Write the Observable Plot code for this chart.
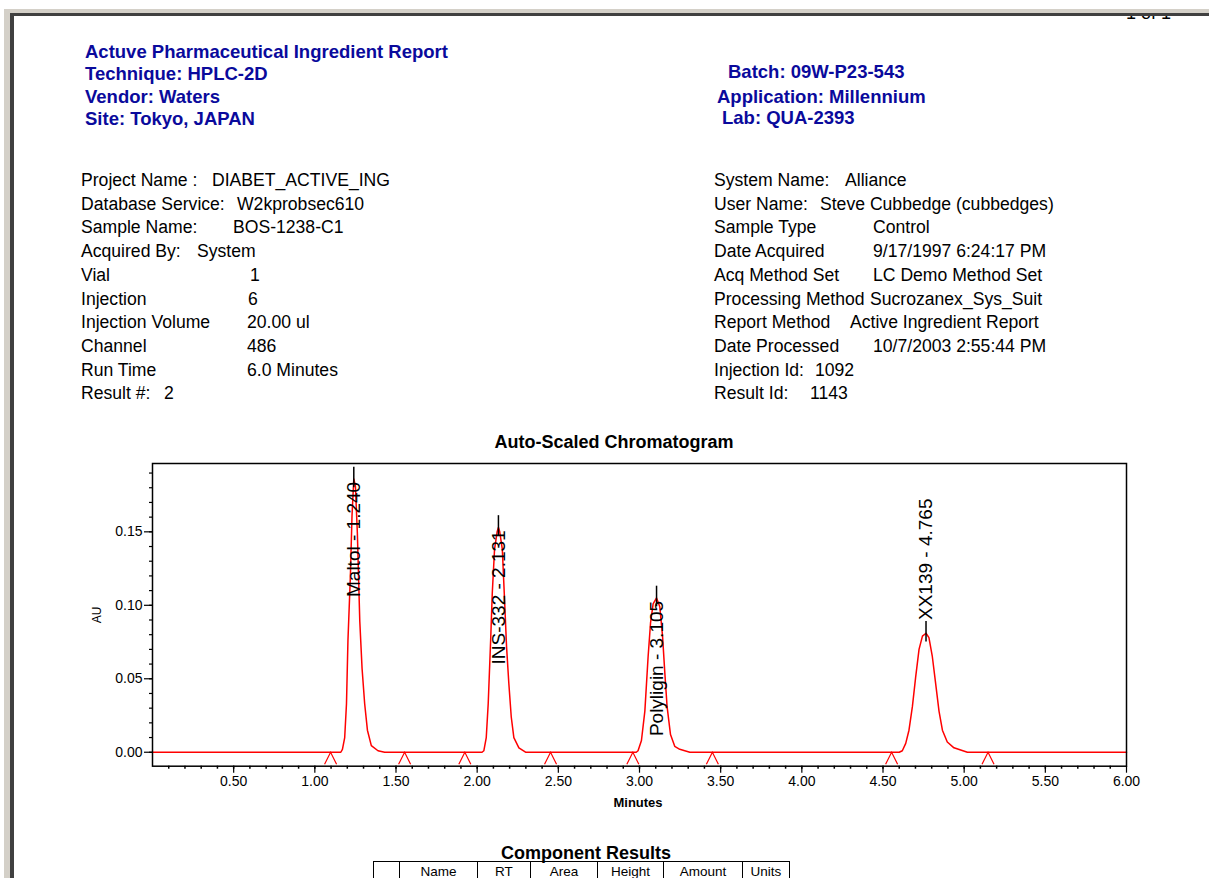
<!DOCTYPE html>
<html>
<head>
<meta charset="utf-8">
<script src="https://cdn.jsdelivr.net/npm/d3@7"></script>
<script src="https://cdn.jsdelivr.net/npm/@observablehq/plot@0.6"></script>
<style>
  html, body { margin: 0; padding: 0; background: #fff; }
  body { width: 1209px; height: 878px; overflow: hidden; position: relative;
         font-family: "Liberation Sans", Arial, sans-serif; color: #000; }
  .abs { position: absolute; white-space: pre; }
  .hdr { font-weight: bold; font-size: 18.5px; color: #0a0a9c; line-height: 22px; }
  .meta { font-size: 17.6px; line-height: 20px; }
  #chart { position: absolute; left: 0; top: 420px; }
  table.comp { position: absolute; left: 373px; top: 861px; border-collapse: collapse;
               font-size: 13.5px; }
  table.comp td { border: 1.5px solid #000; height: 22px; padding: 0; text-align: center;
                  vertical-align: top; line-height: 19px; }
</style>
</head>
<body>
<div id="page"></div>
<div id="chart"></div>
<script>
// ---------------- data ----------------
const headerLeft = ["Actuve Pharmaceutical Ingredient Report", "Technique: HPLC-2D", "Vendor: Waters", "Site: Tokyo, JAPAN"];
const headerRight = ["Batch: 09W-P23-543", "Application: Millennium", "Lab: QUA-2393"];

const metaLeftLabels = ["Project Name :", "Database Service:", "Sample Name:", "Acquired By:", "Vial", "Injection", "Injection Volume", "Channel", "Run Time", "Result #:"];
const metaLeftValues = ["DIABET_ACTIVE_ING", "W2kprobsec610", "BOS-1238-C1", "System", "1", "6", "20.00 ul", "486", "6.0 Minutes", "2"];
const metaRightLabels = ["System Name:", "User Name:", "Sample Type", "Date Acquired", "Acq Method Set", "Processing Method", "Report Method", "Date Processed", "Injection Id:", "Result Id:"];
const metaRightValues = ["Alliance", "Steve Cubbedge (cubbedges)", "Control", "9/17/1997 6:24:17 PM", "LC Demo Method Set", "Sucrozanex_Sys_Suit", "Active Ingredient Report", "10/7/2003 2:55:44 PM", "1092", "1143"];

const chartTitle = "Auto-Scaled Chromatogram";
const xAxisLabel = "Minutes";
const yAxisLabel = "AU";
const tableTitle = "Component Results";
const tableHeaders = ["", "Name", "RT", "Area", "Height", "Amount", "Units"];
const pageNumber = "1 of 1";

const peakNames = ["Maltol", "INS-332", "Polyligin", "XX139"];
const peakRT = [1.240, 2.131, 3.105, 4.765];
const peakHeight = [0.186, 0.153, 0.105, 0.081];

// chromatogram trace (minutes, AU)
const baseStartTime = [0.0], baseStartAU = [0.0];
const maltolTime = [1.160, 1.170, 1.184, 1.195, 1.204, 1.219, 1.229, 1.240, 1.250, 1.262, 1.277, 1.291, 1.307, 1.324, 1.348, 1.389, 1.430];
const maltolAU   = [0.000, 0.002, 0.010, 0.033, 0.076, 0.120, 0.161, 0.186, 0.181, 0.149, 0.089, 0.057, 0.033, 0.015, 0.0045, 0.001, 0.000];
const insTime = [2.030, 2.041, 2.056, 2.068, 2.083, 2.093, 2.107, 2.123, 2.131, 2.139, 2.155, 2.169, 2.181, 2.195, 2.210, 2.226, 2.257, 2.298];
const insAU   = [0.000, 0.001, 0.010, 0.033, 0.076, 0.108, 0.138, 0.150, 0.153, 0.150, 0.138, 0.103, 0.072, 0.047, 0.024, 0.010, 0.003, 0.000];
const polyTime = [2.980, 2.991, 3.012, 3.033, 3.053, 3.068, 3.084, 3.105, 3.125, 3.142, 3.156, 3.170, 3.191, 3.217, 3.248, 3.310];
const polyAU   = [0.000, 0.001, 0.008, 0.028, 0.065, 0.088, 0.101, 0.105, 0.099, 0.079, 0.054, 0.031, 0.012, 0.004, 0.002, 0.000];
const xxTime = [4.600, 4.619, 4.640, 4.660, 4.681, 4.701, 4.722, 4.743, 4.765, 4.783, 4.804, 4.824, 4.845, 4.866, 4.896, 4.937, 5.020];
const xxAU   = [0.000, 0.001, 0.006, 0.015, 0.031, 0.051, 0.070, 0.079, 0.081, 0.078, 0.065, 0.047, 0.028, 0.015, 0.007, 0.003, 0.000];
const baseEndTime = [6.0], baseEndAU = [0.0];

// integration start/stop markers (minutes)
const integrationMarks = [1.097, 1.553, 1.924, 2.452, 2.959, 3.449, 4.553, 5.147];

const xMajorTicks = [0.5, 1.0, 1.5, 2.0, 2.5, 3.0, 3.5, 4.0, 4.5, 5.0, 5.5, 6.0];
const xTickLabels = ["0.50", "1.00", "1.50", "2.00", "2.50", "3.00", "3.50", "4.00", "4.50", "5.00", "5.50", "6.00"];
const yMajorTicks = [0.00, 0.05, 0.10, 0.15];
const yTickLabels = ["0.00", "0.05", "0.10", "0.15"];

// ---------------- layout (not data) ----------------
const page = document.getElementById("page");
function addDiv(text, cls, style) {
  const d = document.createElement("div");
  d.className = "abs " + (cls || "");
  d.textContent = text;
  Object.assign(d.style, style);
  page.appendChild(d);
  return d;
}
// window border
addDiv("", "", {left: "4px", top: "9px", width: "1205px", height: "4px", background: "#d4d0c8"});
addDiv("", "", {left: "4px", top: "9px", width: "6px", height: "869px", background: "#d4d0c8"});
addDiv("", "", {left: "10px", top: "13px", width: "1199px", height: "3px", background: "#404040"});
addDiv("", "", {left: "10px", top: "13px", width: "4px", height: "865px", background: "#404040"});
// page number, mostly hidden under the window border (as in the reference)
const clip = addDiv("", "", {left: "1110px", top: "16px", width: "90px", height: "5px", overflow: "hidden"});
const pn = document.createElement("div");
pn.className = "abs";
pn.textContent = pageNumber;
Object.assign(pn.style, {left: "16px", top: "-12px", fontSize: "18px", lineHeight: "18px"});
clip.appendChild(pn);

const hlTops = [41, 63.3, 85.6, 107.9];
headerLeft.forEach((t, i) => addDiv(t, "hdr", {left: "85px", top: hlTops[i] + "px"}));
const hrPos = [[728, 60.7], [717, 85.7], [722, 107.3]];
headerRight.forEach((t, i) => addDiv(t, "hdr", {left: hrPos[i][0] + "px", top: hrPos[i][1] + "px"}));

const rowTop = i => (170 + i * 23.7) + "px";
const leftValX = [212, 237, 233, 197, 250, 248, 247, 247, 247, 164];
const rightValX = [845, 820, 873, 873, 873, 870, 850, 873, 815, 810];
metaLeftLabels.forEach((t, i) => {
  addDiv(t, "meta", {left: "81px", top: rowTop(i)});
  addDiv(metaLeftValues[i], "meta", {left: leftValX[i] + "px", top: rowTop(i)});
});
metaRightLabels.forEach((t, i) => {
  addDiv(t, "meta", {left: "714px", top: rowTop(i)});
  addDiv(metaRightValues[i], "meta", {left: rightValX[i] + "px", top: rowTop(i)});
});

addDiv(chartTitle, "", {left: "414px", width: "400px", textAlign: "center", top: "431px",
  fontWeight: "bold", fontSize: "18px", lineHeight: "22px"});
addDiv(tableTitle, "", {left: "386px", width: "400px", textAlign: "center", top: "842px",
  fontWeight: "bold", fontSize: "18px", lineHeight: "22px"});

// component results table (cut off by page edge)
const tbl = document.createElement("table");
tbl.className = "comp";
const tr = document.createElement("tr");
const colW = [25, 77, 52, 66, 65, 78, 46];
tableHeaders.forEach((h, i) => {
  const td = document.createElement("td");
  td.textContent = h;
  td.style.width = colW[i] + "px";
  tr.appendChild(td);
});
tbl.appendChild(tr);
document.body.appendChild(tbl);

// ---------------- chart ----------------
const trace = [];
[[baseStartTime, baseStartAU], [maltolTime, maltolAU], [insTime, insAU], [polyTime, polyAU], [xxTime, xxAU], [baseEndTime, baseEndAU]]
  .forEach(([ts, vs]) => ts.forEach((t, i) => trace.push({t, au: vs[i]})));

const peaks = peakNames.map((name, i) => ({name, rt: peakRT[i], h: peakHeight[i],
  label: `${name} - ${peakRT[i].toFixed(3)}`}));

const W = 1209, H = 410, mT = 43, mB = 64.3, mL = 152, mR = 83;
const yDom = [-0.0095, 0.1965];
const pxPerAU = (H - mT - mB) / (yDom[1] - yDom[0]);
const labelFont = 19;
peaks.forEach(p => {
  const lenAU = (p.label.length * 0.5 * labelFont) / pxPerAU;
  p.above = p.h + 0.009 + lenAU <= yDom[1];
  p.ly = p.above ? p.h + 0.009 : p.h - 0.002;
});

const caret = {
  draw(ctx, size) {
    const r = Math.sqrt(size / Math.PI);
    ctx.moveTo(-r, 2 * r);
    ctx.lineTo(0, 0);
    ctx.lineTo(r, 2 * r);
  }
};

const xMinor = d3.range(1, 60).map(i => i / 10);
const yMinor = d3.range(0, 20).map(i => i / 100);
const fam = '"Liberation Sans", Arial, sans-serif';

const chart = Plot.plot({
  width: W, height: H,
  marginTop: mT, marginBottom: mB, marginLeft: mL, marginRight: mR,
  x: {domain: [0, 6], axis: null},
  y: {domain: yDom, axis: null},
  style: {fontFamily: fam, background: "transparent", overflow: "visible", color: "#000"},
  marks: [
    Plot.line(trace, {x: "t", y: "au", stroke: "#ff0000", strokeWidth: 1.5}),
    Plot.dot(integrationMarks, {x: d => d, y: () => 0, symbol: caret, r: 6, fill: "none",
      stroke: "#ff0000", strokeWidth: 1.2}),
    Plot.ruleX(peaks, {x: "rt", y1: d => d.h - 0.006, y2: d => d.h + 0.008, stroke: "#000", strokeWidth: 1.5}),
    Plot.text(peaks.filter(p => !p.above), {x: "rt", y: "ly", text: "label", rotate: -90,
      textAnchor: "end", fontSize: labelFont, fill: "#000"}),
    Plot.text(peaks.filter(p => p.above), {x: "rt", y: "ly", text: "label", rotate: -90,
      textAnchor: "start", fontSize: labelFont, fill: "#000"}),
    Plot.frame({stroke: "#000", strokeWidth: 1.5}),
    Plot.axisY({ticks: yMinor, tickSize: 3, tickFormat: () => "", label: null, strokeWidth: 1.2}),
    Plot.axisY({ticks: yMajorTicks, tickSize: 8, tickPadding: 2, label: null, fontSize: 14,
      tickFormat: d => yTickLabels[yMajorTicks.indexOf(d)], strokeWidth: 1.2}),
    Plot.axisX({ticks: xMinor, tickSize: 3, tickFormat: () => "", label: null, strokeWidth: 1.5}),
    Plot.axisX({ticks: xMajorTicks, tickSize: 7, tickPadding: 3, label: null, fontSize: 14,
      tickFormat: d => xTickLabels[xMajorTicks.indexOf(d)], strokeWidth: 1.2})
  ]
});
document.getElementById("chart").appendChild(chart);

addDiv(xAxisLabel, "", {left: "588px", width: "100px", textAlign: "center", top: "795px",
  fontSize: "13px", fontWeight: "bold", lineHeight: "16px"});
addDiv(yAxisLabel, "", {left: "77px", width: "40px", textAlign: "center", top: "607px",
  fontSize: "12px", lineHeight: "16px", transform: "rotate(-90deg)"});
</script>
</body>
</html>
